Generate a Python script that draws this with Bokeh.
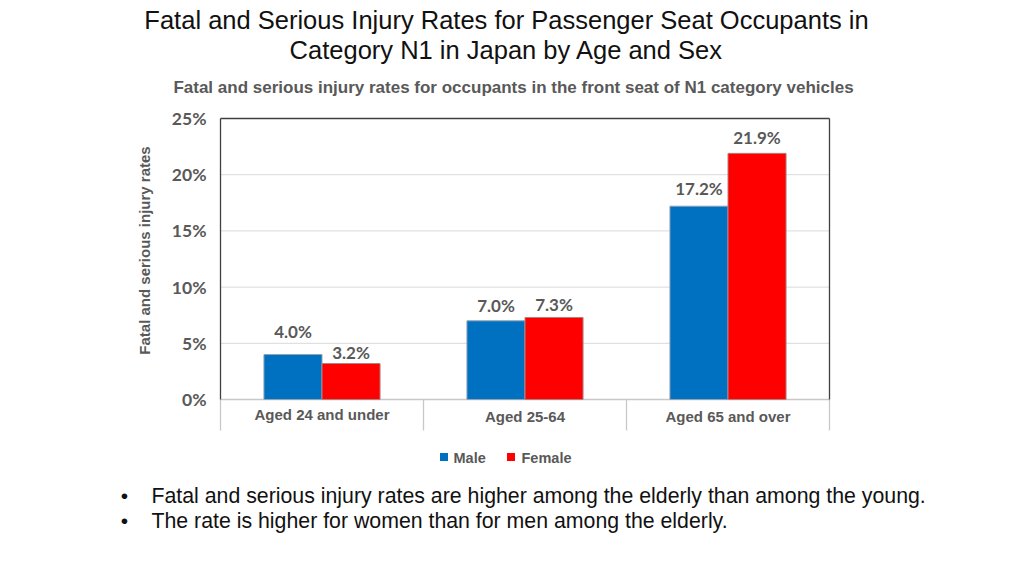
import math
from bokeh.plotting import figure
from bokeh.models import Range1d, ColumnDataSource
from bokeh.core.properties import value
from bokeh.embed import file_html
from bokeh.resources import INLINE

categories = ["Aged 24 and under", "Aged 25-64", "Aged 65 and over"]
male = [4.0, 7.0, 17.2]
female = [3.2, 7.3, 21.9]
series_names = ["Male", "Female"]
colors = ["#0070C0", "#FF0000"]
y_ticks = [0, 5, 10, 15, 20, 25]
tick_labels = ["0%", "5%", "10%", "15%", "20%", "25%"]
title_lines = ["Fatal and Serious Injury Rates for Passenger Seat Occupants in",
               "Category N1 in Japan by Age and Sex"]
subtitle = "Fatal and serious injury rates for occupants in the front seat of N1 category vehicles"
y_title = "Fatal and serious injury rates"
bullets = ["Fatal and serious injury rates are higher among the elderly than among the young.",
           "The rate is higher for women than for men among the elderly."]

# label placement style (pixel offsets above bar tops)
male_label_offsets = [-13, -5, -7]
female_label_offsets = [-1, -2, -5]

GRAY = "#595959"
ARIAL = "Liberation Sans"
CAL = "Lato"

W, H = 1008, 560
# pixel geometry of the chart box (picture pixels)
BOX_L, BOX_R, Y0, Y25 = 220, 829, 399, 118
n = len(categories)
PX = (BOX_R - BOX_L) / n          # pixels per category
PY = (Y0 - Y25) / 25.0            # pixels per percent


def dx(px):
    return (px - BOX_L) / PX


def dy(py):
    return (Y0 - py) / PY


p = figure(width=W, height=H, output_backend="svg", toolbar_location=None,
           x_axis_location=None, y_axis_location=None,
           x_range=Range1d(dx(0), dx(W)), y_range=Range1d(dy(H), dy(0)),
           min_border=0)
p.outline_line_color = None
p.background_fill_color = "white"
p.xgrid.visible = False
p.ygrid.visible = False

# gridlines
grid = [t for t in y_ticks if 0 < t < 25]
p.segment(x0=[0] * len(grid), y0=grid, x1=[n] * len(grid), y1=grid, line_color="#D9D9D9", line_width=1)
# frame box and separators
bottom = dy(430)
p.segment(x0=list(range(n + 1)), y0=[0] * (n + 1), x1=list(range(n + 1)), y1=[bottom] * (n + 1),
          line_color="#C8C8C8", line_width=1.3)
p.segment(x0=[0], y0=[0], x1=[n], y1=[0], line_color="#C8C8C8", line_width=1.3)
p.segment(x0=[0], y0=[25], x1=[n], y1=[25], line_color="#404040", line_width=1.3)
p.segment(x0=[0, n], y0=[0, 0], x1=[0, n], y1=[25, 25], line_color="#404040", line_width=1.3)

# y tick labels
tsrc = ColumnDataSource(dict(x=[dx(206)] * len(y_ticks), y=y_ticks, t=tick_labels))
p.text(x="x", y="y", text="t", source=tsrc, text_align="right", text_baseline="middle",
       text_font=value(CAL), text_font_style="bold", text_font_size="17.5px", text_color=GRAY)

# bars
bw = 0.286
xm = [i + 0.5 - bw / 2 for i in range(n)]
xf = [i + 0.5 + bw / 2 for i in range(n)]
src = ColumnDataSource(dict(xm=xm, xf=xf, male=male, female=female,
                            om=male_label_offsets, of=female_label_offsets,
                            lm=[f"{v:.1f}%" for v in male], lf=[f"{v:.1f}%" for v in female]))
p.vbar(x="xm", top="male", bottom=0, width=bw, source=src, fill_color=colors[0], line_color="#8FA3B5", line_width=1)
p.vbar(x="xf", top="female", bottom=0, width=bw, source=src, fill_color=colors[1], line_color="#B08080", line_width=1)

for xc, yc, lc, oc in (("xm", "male", "lm", "om"), ("xf", "female", "lf", "of")):
    p.text(x=xc, y=yc, text=lc, source=src, text_align="center", text_baseline="bottom", y_offset=oc,
           text_font=value(CAL), text_font_style="bold", text_font_size="17px", text_color=GRAY)

# category labels
csrc = ColumnDataSource(dict(x=[i + 0.5 for i in range(n)], y=[dy(414), dy(416), dy(416)], t=categories))
p.text(x="x", y="y", text="t", source=csrc, text_align="center", text_baseline="middle",
       text_font=value(ARIAL), text_font_style="bold", text_font_size="15px", text_color=GRAY)


def lab(px, py, text, size, color, align="center", bold=False, angle=0.0, font=ARIAL):
    p.text(x=[dx(px)], y=[dy(py)], text=[text], text_align=align, text_baseline="middle",
           text_font=value(font), text_font_style="bold" if bold else "normal",
           text_font_size=size, text_color=color, angle=angle)


lab(506, 19, title_lines[0], "25.5px", "#111111")
lab(506, 49, title_lines[1], "25.5px", "#111111")
lab(513, 87, subtitle, "17px", GRAY, bold=True)
lab(144, 250, y_title, "15px", GRAY, bold=True, angle=math.pi / 2)
for i, b in enumerate(bullets):
    py = 495 + 25 * i
    lab(124, py, "\u2022", "21px", "#111111")
    lab(151, py, b, "21.3px", "#111111", align="left")

# legend
p.rect(x=[dx(443.5), dx(510.5)], y=[dy(456.5)] * 2, width=8, height=8,
       width_units="screen", height_units="screen", fill_color=colors, line_color=None)
lab(453, 457, series_names[0], "14.5px", GRAY, align="left", bold=True)
lab(521, 457, series_names[1], "14.5px", GRAY, align="left", bold=True)

open("out.html", "w").write(file_html(p, INLINE))
